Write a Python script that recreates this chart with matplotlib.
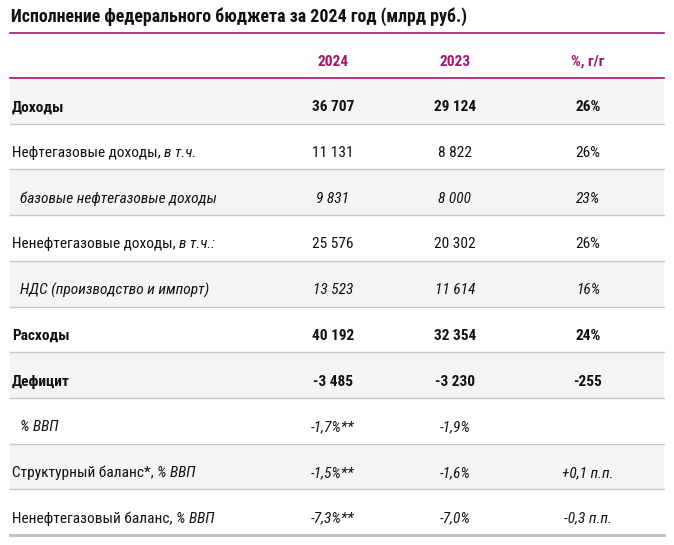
import matplotlib
matplotlib.use("Agg")
import matplotlib.pyplot as plt
from matplotlib import font_manager as fm
from matplotlib.patches import Rectangle

names = {f.name for f in fm.fontManager.ttflist}
FONT = "Roboto Condensed" if "Roboto Condensed" in names else "Liberation Sans"
plt.rcParams['font.family'] = [FONT, 'DejaVu Sans']

title = "Исполнение федерального бюджета за 2024 год (млрд руб.)"
headers = ["2024", "2023", "%, г/г"]
labels_main = ["Доходы", "Нефтегазовые доходы, ", "базовые нефтегазовые доходы",
               "Ненефтегазовые доходы, ", "НДС (производство и импорт)", "Расходы",
               "Дефицит", "% ВВП", "Структурный баланс*, ", "Ненефтегазовый баланс, "]
labels_suffix = ["", "в т.ч.", "", "в т.ч.:", "", "", "", "", "% ВВП", "% ВВП"]
col_2024 = ["36 707", "11 131", "9 831", "25 576", "13 523", "40 192", "-3 485",
            "-1,7%**", "-1,5%**", "-7,3%**"]
col_2023 = ["29 124", "8 822", "8 000", "20 302", "11 614", "32 354", "-3 230",
            "-1,9%", "-1,6%", "-7,0%"]
col_yoy = ["26%", "26%", "23%", "26%", "16%", "24%", "-255", "", "+0,1 п.п.", "-0,3 п.п."]
# row style: 'b' bold, 'n' normal, 'i' italic (indented), 'v' values italic
row_style = ["b", "n", "i", "n", "i", "b", "b", "i", "v", "v"]

W, H = 674, 545
fig = plt.figure(figsize=(W / 100, H / 100), dpi=100)
ax = fig.add_axes([0, 0, 1, 1])
ax.set_xlim(0, W)
ax.set_ylim(H, 0)
ax.axis("off")

MAG = "#a3166f"
GRID = "#c8c8c8"
BG = "#f5f4f2"
FS = 11.1
x0, x1 = 10, 664
col_x = [333, 455, 588]

ax.text(11, 17, title, fontsize=12.9, fontweight="bold", va="center", ha="left", color="#111111")
ax.plot([x0, x1], [33, 33], color=MAG, lw=1.2)
for cx, h in zip(col_x, headers):
    ax.text(cx, 62, h, fontsize=FS, fontweight="bold", color=MAG, ha="center", va="center")
ax.plot([x0, x1], [78, 78], color=MAG, lw=1.2)

top = 78
rh = 45.7
for i in range(len(labels_main)):
    y0 = top + i * rh
    yc = y0 + 29.3
    last = i == len(labels_main) - 1
    if i % 2 == 0:
        ax.add_patch(Rectangle((x0, y0), x1 - x0, rh, facecolor=BG, edgecolor="none", zorder=0))
    ax.plot([x0, x1], [y0 + rh, y0 + rh], color="#bdbdbd" if last else GRID, lw=2.0 if last else 1.0)
    st = row_style[i]
    weight = "bold" if st == "b" else "normal"
    lstyle = "italic" if st == "i" else "normal"
    lx = 20 if st == "i" else 12
    t = ax.text(lx, yc, labels_main[i], fontsize=FS, fontweight=weight, fontstyle=lstyle,
                ha="left", va="center", color="#111111")
    if labels_suffix[i]:
        ax.annotate(labels_suffix[i], xy=(1, 0.5), xycoords=t, va="center", ha="left",
                    fontsize=FS, fontstyle="italic", color="#111111")
    vstyle = "italic" if st in ("i", "v") else "normal"
    for cx, v in zip(col_x, [col_2024[i], col_2023[i], col_yoy[i]]):
        ax.text(cx, yc, v, fontsize=FS, fontweight=weight, fontstyle=vstyle,
                ha="center", va="center", color="#111111")

fig.savefig("out.png", dpi=100, facecolor="white")
